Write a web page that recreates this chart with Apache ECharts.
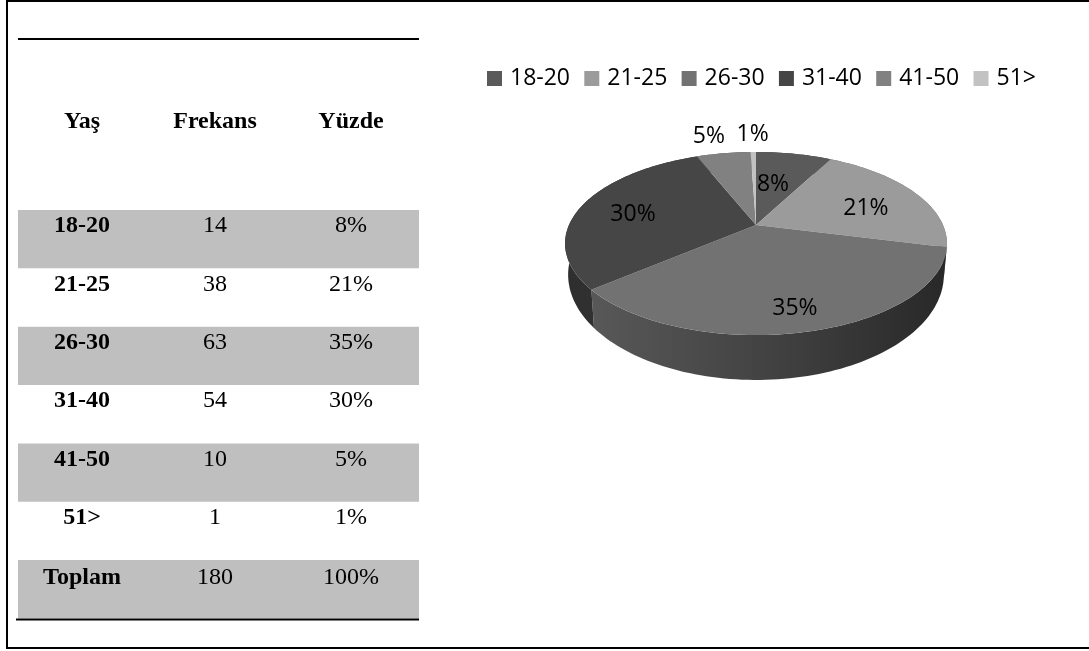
<!DOCTYPE html>
<html><head><meta charset="utf-8">
<style>html,body{margin:0;padding:0;background:#fff}#c{width:1089px;height:651px}</style>
<script src="https://cdn.jsdelivr.net/npm/echarts@6/dist/echarts.min.js"></script>
</head><body><div id="c"></div>
<script>
// ---- data ----
const categories = ['18-20','21-25','26-30','31-40','41-50','51>'];
const frequencies = [14,38,63,54,10,1];
const percents = ['8%','21%','35%','30%','5%','1%'];
const totalLabel = 'Toplam';
const totalFrequency = 180;
const totalPercent = '100%';
const headers = ['Yaş','Frekans','Yüzde'];

// ---- styles ----
const sliceColors = ['#5a5a5a','#9b9b9b','#727272','#464646','#818181','#c2c2c2'];
const wallStops = [
  [[0,'#3a3a3a'],[1,'#3a3a3a']],
  [[0,'#6a6a6a'],[1,'#6a6a6a']],
  [[0,'#585858'],[0.5,'#424242'],[1,'#282828']],
  [[0,'#2e2e2e'],[1,'#3a3a3a']],
  [[0,'#505050'],[1,'#505050']],
  [[0,'#707070'],[1,'#707070']]
];
const labelShiftDeg = [-3,5.8,0.6,-3.2,-2,0];
const labelRadius = [0.525,0.644,0.813,0.687,1.309,1.311];
const labelFont = 'Open Sans';
const serif = '"Liberation Serif"';

// perspective projection of the pie disc
const cx = 756, apexY = 225, k = -0.202;
const topDisc = {R:187, S:87.8, y:apexY};
const baseDisc = {R:184, S:101, y:253.4};
function project(disc, deg, r){
  const t = deg*Math.PI/180, u = Math.sin(t)*r, v = -Math.cos(t)*r, w = 1+k*v;
  return [cx + disc.R*u/w, disc.y + disc.S*v/w];
}
const total = frequencies.reduce((a,b)=>a+b,0);
const starts = []; let acc = 0;
frequencies.forEach(f=>{starts.push(acc/total*360); acc+=f;});

function arc(disc,a,b){
  const n = Math.max(2,Math.ceil((b-a)/1.5)), pts=[];
  for(let i=0;i<=n;i++) pts.push(project(disc,a+(b-a)*i/n,1));
  return pts;
}
function makeRender(i){
  return function(){
    const a = starts[i], b = a + frequencies[i]/total*360;
    const topArc = arc(topDisc,a,b), baseArc = arc(baseDisc,a,b);
    const xs = topArc.concat(baseArc).map(p=>p[0]);
    const minX = Math.min.apply(null,xs), maxX = Math.max.apply(null,xs);
    const lab = project(topDisc,(a+b)/2+labelShiftDeg[i],labelRadius[i]);
    return {type:'group',children:[
      {type:'polygon',z2:1,shape:{points:topArc.concat(baseArc.slice().reverse())},
       style:{fill:new echarts.graphic.LinearGradient(minX,0,maxX,0,
         wallStops[i].map(s=>({offset:s[0],color:s[1]})),true)}},
      {type:'polygon',z2:2,shape:{points:[[cx,apexY]].concat(topArc)},
       style:{fill:sliceColors[i]}},
      {type:'text',z2:3,x:lab[0],y:lab[1],
       style:{text:percents[i],fill:'#000',font:'23px "'+labelFont+'"',align:'center',verticalAlign:'middle'}}
    ]};
  };
}

// table
const left=18,right=419,colX=[82,215,351];
const bandTop=210,rowH=58.35;
const g=[];
const rows = categories.map((c,i)=>[c,String(frequencies[i]),percents[i]]);
rows.push([totalLabel,String(totalFrequency),totalPercent]);
function cell(x,y,t,bold){
  g.push({type:'text',x:x,y:y,z:5,style:{text:t,fill:'#000',font:(bold?'bold ':'')+'24px '+serif,align:'center',verticalAlign:'middle'}});
}
rows.forEach((r,i)=>{
  const top=bandTop+rowH*i;
  if(i%2===0) g.push({type:'rect',z:1,shape:{x:left,y:top,width:right-left,height:rowH},style:{fill:'#bfbfbf'}});
  r.forEach((t,j)=>cell(colX[j],top+(i===rows.length-1?17.5:16),t,j===0));
});
headers.forEach((h,j)=>cell(colX[j],122,h,true));
g.push({type:'line',z:6,shape:{x1:left,y1:39,x2:right,y2:39},style:{stroke:'#000',lineWidth:2}});
g.push({type:'line',z:6,shape:{x1:16,y1:619.5,x2:right,y2:619.5},style:{stroke:'#000',lineWidth:2}});
// frame
g.push({type:'polyline',z:6,shape:{points:[[1089,1],[7,1],[7,648],[1089,648]]},style:{stroke:'#000',lineWidth:2,fill:null}});

const chart = echarts.init(document.getElementById('c'),null,{renderer:'canvas'});
chart.setOption({
  animation:false,
  backgroundColor:'#fff',
  legend:{
    left:482,top:62,itemWidth:15,itemHeight:15,itemGap:14.3,icon:'rect',
    data:categories,
    textStyle:{fontFamily:labelFont,fontSize:23,color:'#000',padding:[0,0,0,3]}
  },
  graphic:{elements:g},
  series:categories.map((c,i)=>({
    type:'custom',name:c,coordinateSystem:'none',silent:true,
    itemStyle:{color:sliceColors[i]},
    data:[[frequencies[i]]],
    renderItem:makeRender(i)
  }))
});
</script></body></html>
